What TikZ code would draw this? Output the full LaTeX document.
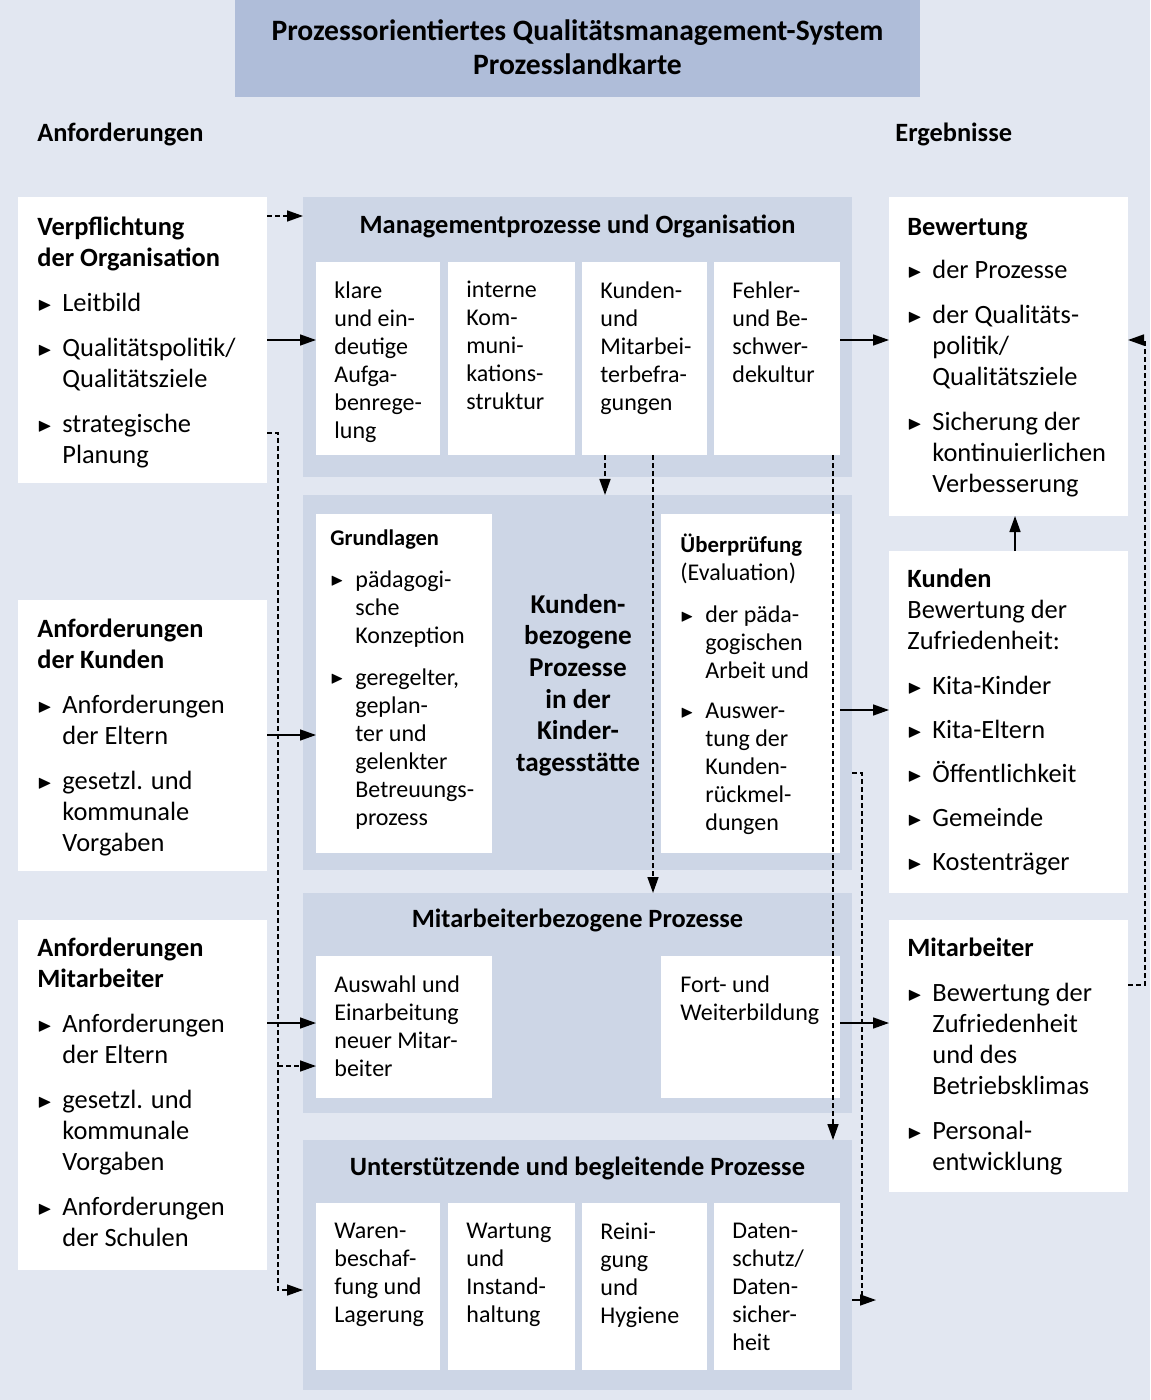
\documentclass[tikz,border=0pt]{standalone}
\usepackage{fontspec}
\setmainfont{Carlito}
\usepackage{amssymb}
\usepackage{graphicx}
\usetikzlibrary{arrows.meta,fit}
\definecolor{qmback}{HTML}{E2E7F1}
\definecolor{qmtitle}{HTML}{AFBDD9}
\definecolor{qmgroup}{HTML}{CDD6E6}
\newcommand{\bul}{\makebox[12.5pt][l]{\raisebox{0.6pt}{\scalebox{0.72}{$\blacktriangleright$}}}}
\newcommand{\ind}{\hspace*{12.5pt}}

\begin{document}
\begin{tikzpicture}[x=0.5pt,y=-0.5pt,
	wbox/.style={fill=white,inner sep=0pt,outer sep=0pt},
	grp/.style={fill=qmgroup,inner sep=0pt,outer sep=0pt},
	txt/.style={anchor=north west,inner sep=0pt,align=left,font=\fontsize{13.2}{15.5}\selectfont},
	stxt/.style={txt,font=\fontsize{12}{14}\selectfont},
	head/.style={inner sep=0pt,align=center,font=\bfseries\fontsize{13.2}{15.8}\selectfont},
	flow/.style={line width=0.75pt,-{Triangle[length=8pt,width=5.5pt]}},
	dline/.style={line width=0.75pt,dash pattern=on 2.5pt off 1.5pt},
	dflow/.style={flow,dline}]

	\fill[qmback] (0,0) rectangle (1150,1400);
	\node[grp,fill=qmtitle,fit={(235,0) (920,97)}] (title) {};
	\node[head,font=\bfseries\fontsize{14.8}{17}\selectfont] (titletxt) at (577.5,47) {Prozessorientiertes Qualitätsmanagement-System\\Prozesslandkarte};
	\node[head,anchor=west] (anf) at (37,134) {Anforderungen};
	\node[head,anchor=west] (erg) at (895,134) {Ergebnisse};

	% Anforderungen
	\node[wbox,fit={(18,197) (267,483)}] (vpfl) {};
	\node[wbox,fit={(18,600) (267,871)}] (akun) {};
	\node[wbox,fit={(18,920) (267,1270)}] (amit) {};
	\node[txt] (vpfltxt) at ([xshift=9.5pt,yshift=-10pt]vpfl.north west) {\textbf{Verpflichtung}\\\textbf{der Organisation}\\[7pt]\bul Leitbild\\[7pt]\bul Qualitätspolitik/\\\ind Qualitätsziele\\[7pt]\bul strategische\\\ind Planung};
	\node[txt] (akuntxt) at ([xshift=9.5pt,yshift=-9.5pt]akun.north west) {\textbf{Anforderungen}\\\textbf{der Kunden}\\[7pt]\bul Anforderungen\\\ind der Eltern\\[7pt]\bul gesetzl. und\\\ind kommunale\\\ind Vorgaben};
	\node[txt] (amittxt) at ([xshift=9.5pt,yshift=-9pt]amit.north west) {\textbf{Anforderungen}\\\textbf{Mitarbeiter}\\[7pt]\bul Anforderungen\\\ind der Eltern\\[7pt]\bul gesetzl. und\\\ind kommunale\\\ind Vorgaben\\[7pt]\bul Anforderungen\\\ind der Schulen};

	% Ergebnisse
	\node[wbox,fit={(889,197) (1128,516)}] (bew) {};
	\node[wbox,fit={(889,551) (1128,893)}] (kun) {};
	\node[wbox,fit={(889,920) (1128,1192)}] (mita) {};
	\node[txt] (bewtxt) at ([xshift=9pt,yshift=-10.5pt]bew.north west) {\textbf{Bewertung}\\[6pt]\bul der Prozesse\\[7pt]\bul der Qualitäts-\\\ind politik/\\\ind Qualitätsziele\\[7pt]\bul Sicherung der\\\ind kontinuierlichen\\\ind Verbesserung};
	\node[txt] (kuntxt) at ([xshift=9pt,yshift=-9pt]kun.north west) {\textbf{Kunden}\\Bewertung der\\Zufriedenheit:\\[7pt]\bul Kita-Kinder\\[6.5pt]\bul Kita-Eltern\\[6.5pt]\bul Öffentlichkeit\\[6.5pt]\bul Gemeinde\\[6.5pt]\bul Kostenträger};
	\node[txt] (mitatxt) at ([xshift=9pt,yshift=-9pt]mita.north west) {\textbf{Mitarbeiter}\\[7pt]\bul Bewertung der\\\ind Zufriedenheit\\\ind und des\\\ind Betriebsklimas\\[7pt]\bul Personal-\\\ind entwicklung};

	% Prozesse
	\node[grp,fit={(303,197) (852,477)}] (grpman) {};
	\node[grp,fit={(303,495) (852,870)}] (grpkun) {};
	\node[grp,fit={(303,893) (852,1113)}] (grpmit) {};
	\node[grp,fit={(303,1140) (852,1390)}] (grpunt) {};
	\node[head] (mantit) at (grpman.north |- 0,226) {Managementprozesse und Organisation};
	\node[head] (mittit) at (grpmit.north |- 0,920) {Mitarbeiterbezogene Prozesse};
	\node[head] (unttit) at (grpunt.north |- 0,1168) {Unterstützende und begleitende Prozesse};
	\node[head,font=\bfseries\fontsize{13.6}{15.8}\selectfont] (kunmid) at (578,685) {Kunden-\\bezogene\\Prozesse\\in der\\Kinder-\\tagesstätte};

	\foreach \i/\xa/\xb in {1/316/440,2/448/575,3/582/707,4/714/840}{
		\node[wbox,fit={(\xa,262) (\xb,455)}] (man\i) {};
		\node[wbox,fit={(\xa,1203) (\xb,1370)}] (unt\i) {};
	}
	\foreach \i/\lbl in {1/{klare\\und ein-\\deutige\\Aufga-\\benrege-\\lung},2/{interne\\Kom-\\muni-\\kations-\\struktur},3/{Kunden-\\und\\Mitarbei-\\terbefra-\\gungen},4/{Fehler-\\und Be-\\schwer-\\dekultur}}
		\node[stxt] (mantxt\i) at ([xshift=9pt,yshift=-9.5pt]man\i.north west) {\lbl};
	\foreach \i/\lbl in {1/{Waren-\\beschaf-\\fung und\\Lagerung},2/{Wartung\\und\\Instand-\\haltung},3/{Reini-\\gung\\und\\Hygiene},4/{Daten-\\schutz/\\Daten-\\sicher-\\heit}}
		\node[stxt] (unttxt\i) at ([xshift=9pt,yshift=-10pt]unt\i.north west) {\lbl};

	\node[wbox,fit={(316,514) (492,853)}] (grund) {};
	\node[wbox,fit={(661,514) (840,853)}] (uepr) {};
	\node[wbox,fit={(316,956) (492,1098)}] (mit1) {};
	\node[wbox,fit={(661,956) (840,1098)}] (mit2) {};
	\node[stxt] (grundtxt) at ([xshift=7pt,yshift=-7.5pt]grund.north west) {\textbf{\fontsize{11.2}{14}\selectfont Grundlagen}\\[7pt]\bul pädagogi-\\\ind sche\\\ind Konzeption\\[7pt]\bul geregelter,\\\ind geplan-\\\ind ter und\\\ind gelenkter\\\ind Betreuungs-\\\ind prozess};
	\node[stxt] (ueprtxt) at ([xshift=9.5pt,yshift=-10pt]uepr.north west) {\textbf{\fontsize{11.4}{14}\selectfont Überprüfung}\\(Evaluation)\\[7pt]\bul der päda-\\\ind gogischen\\\ind Arbeit und\\[6pt]\bul Auswer-\\\ind tung der\\\ind Kunden-\\\ind rückmel-\\\ind dungen};
	\node[stxt] (mit1txt) at ([xshift=9pt,yshift=-9.5pt]mit1.north west) {Auswahl und\\Einarbeitung\\neuer Mitar-\\beiter};
	\node[stxt] (mit2txt) at ([xshift=9.5pt,yshift=-9.5pt]mit2.north west) {Fort- und\\Weiterbildung};

	% Verbindungen
	\coordinate (lrail) at (278,433);
	\coordinate (mrail) at (862,773);
	\coordinate (rrail) at (1145,985);
	\coordinate (rend) at (876,1300);
	\draw[dflow] (vpfl.east |- 0,216) -- (grpman.west |- 0,216);
	\draw[flow] (vpfl.east |- 0,340) -- (man1.west |- 0,340);
	\draw[dflow] (vpfl.east |- lrail) -- (lrail) -- (lrail |- 0,1290) -- (grpunt.west |- 0,1290);
	\draw[dflow] (lrail |- 0,1066) -- (mit1.west |- 0,1066);
	\draw[flow] (akun.east |- 0,735) -- (grund.west |- 0,735);
	\draw[flow] (amit.east |- 0,1023) -- (mit1.west |- 0,1023);
	\draw[dflow] (man3.south -| 605,0) -- (grpkun.north -| 605,0);
	\draw[dflow] (man3.south -| 653,0) -- (grpmit.north -| 653,0);
	\draw[dflow] (man4.south -| 833,0) -- (grpunt.north -| 833,0);
	\draw[flow] (man4.east |- 0,340) -- (bew.west |- 0,340);
	\draw[flow] (uepr.east |- 0,710) -- (kun.west |- 0,710);
	\draw[flow] (mit2.east |- 0,1023) -- (mita.west |- 0,1023);
	\draw[dline] (grpkun.east |- mrail) -- (mrail) -- (mrail |- rend);
	\draw[flow] (grpunt.east |- rend) -- (rend);
	\draw[flow] (kun.north -| 1015,0) -- (bew.south -| 1015,0);
	\draw[dflow] (mita.east |- rrail) -- (rrail) -- (rrail |- 0,340) -- (bew.east |- 0,340);
\end{tikzpicture}
\end{document}
